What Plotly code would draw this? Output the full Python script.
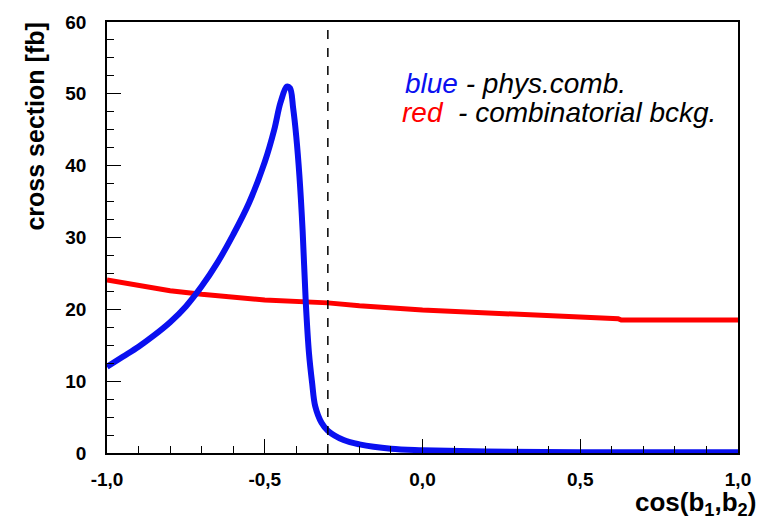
import plotly.graph_objects as go

# blue: phys.comb.
blue_x = [-1.0, -0.95, -0.9, -0.85, -0.8, -0.75, -0.7, -0.65, -0.6, -0.55, -0.5, -0.47, -0.45,
          -0.43, -0.42, -0.41, -0.40, -0.39, -0.38, -0.37, -0.36, -0.35, -0.34, -0.32, -0.3,
          -0.25, -0.2, -0.1, 0.0, 0.2, 0.5, 1.0]
blue_y = [12.0, 13.4, 14.8, 16.4, 18.2, 20.4, 23.2, 26.5, 30.4, 34.8, 40.5, 45.0, 48.8,
          51.0, 50.8, 48.0, 44.0, 38.5, 31.0, 21.0, 14.0, 9.8, 6.5, 4.2, 3.1,
          1.8, 1.2, 0.6, 0.4, 0.2, 0.1, 0.1]

# red: combinatorial background
red_x = [-1.0, -0.9, -0.8, -0.7, -0.5, -0.3, -0.2, 0.0, 0.2, 0.4, 0.62, 0.63, 0.8, 1.0]
red_y = [24.1, 23.3, 22.6, 22.1, 21.3, 20.9, 20.5, 19.9, 19.5, 19.0, 18.7, 18.5, 18.5, 18.5]

x_tickvals = [-1.0, -0.5, 0.0, 0.5, 1.0]
x_ticktext = ["-1,0", "-0,5", "0,0", "0,5", "1,0"]
y_tickvals = [0, 10, 20, 30, 40, 50, 60]
y_ticktext = ["0", "10", "20", "30", "40", "50", "60"]
cut_x = -0.3

tick_font = dict(family="Liberation Sans Narrow, Liberation Sans, Arial", size=19, color="black", weight="bold")

fig = go.Figure()
fig.add_trace(go.Scatter(x=red_x, y=red_y, mode="lines",
                         line=dict(color="#ff0000", width=5), showlegend=False))
fig.add_trace(go.Scatter(x=blue_x, y=blue_y, mode="lines", line_shape="spline",
                         line=dict(color="#0a10f0", width=6), showlegend=False))

fig.add_shape(type="line", x0=cut_x, x1=cut_x, y0=0, y1=60, xref="x", yref="y",
              line=dict(color="black", width=1.5, dash="dash"))

fig.update_xaxes(range=[-1, 1], tickvals=x_tickvals, ticktext=x_ticktext,
                 ticks="inside", ticklen=14, tickwidth=1.3, tickcolor="black",
                 minor=dict(dtick=0.1, tick0=0, ticks="inside", ticklen=7, tickwidth=1.3, tickcolor="black"),
                 showline=True, linecolor="black", linewidth=1.5, mirror=True,
                 showgrid=False, zeroline=False, tickfont=tick_font, ticklabelstandoff=8)
fig.update_yaxes(range=[0, 60], tickvals=y_tickvals, ticktext=y_ticktext,
                 ticks="inside", ticklen=14, tickwidth=1.3, tickcolor="black",
                 minor=dict(dtick=2.5, tick0=0, ticks="inside", ticklen=7, tickwidth=1.3, tickcolor="black"),
                 showline=True, linecolor="black", linewidth=1.5, mirror=True,
                 showgrid=False, zeroline=False, tickfont=tick_font, ticklabelstandoff=15)

legend_font = dict(family="Liberation Sans, Arial", size=28, color="black")
fig.add_annotation(x=-0.0625, y=51.5, xref="x", yref="y", xanchor="left", yanchor="middle",
                   showarrow=False, font=legend_font,
                   text="<i><span style='color:#0a10f0'>blue</span> - phys.comb.</i>")
fig.add_annotation(x=-0.07, y=47.35, xref="x", yref="y", xanchor="left", yanchor="middle",
                   showarrow=False, font=legend_font,
                   text="<i><span style='color:#ff0000'>red</span>  - combinatorial bckg.</i>")

fig.add_annotation(x=-0.1156, y=0.7575, xref="paper", yref="paper", textangle=-90,
                   showarrow=False, xanchor="center", yanchor="middle",
                   font=dict(family="Liberation Sans, Arial", size=25, color="black", weight="bold"),
                   text="cross section [fb]")
fig.add_annotation(x=0.932, y=-0.118, xref="paper", yref="paper",
                   showarrow=False, xanchor="center", yanchor="middle",
                   font=dict(family="Liberation Sans, Arial", size=26, color="black", weight="bold"),
                   text="cos(b<sub>1</sub>,b<sub>2</sub>)")

fig.update_layout(width=763, height=528, margin=dict(l=107, r=16, t=22, b=75),
                  plot_bgcolor="white", paper_bgcolor="white")

fig.write_html("out.html")
